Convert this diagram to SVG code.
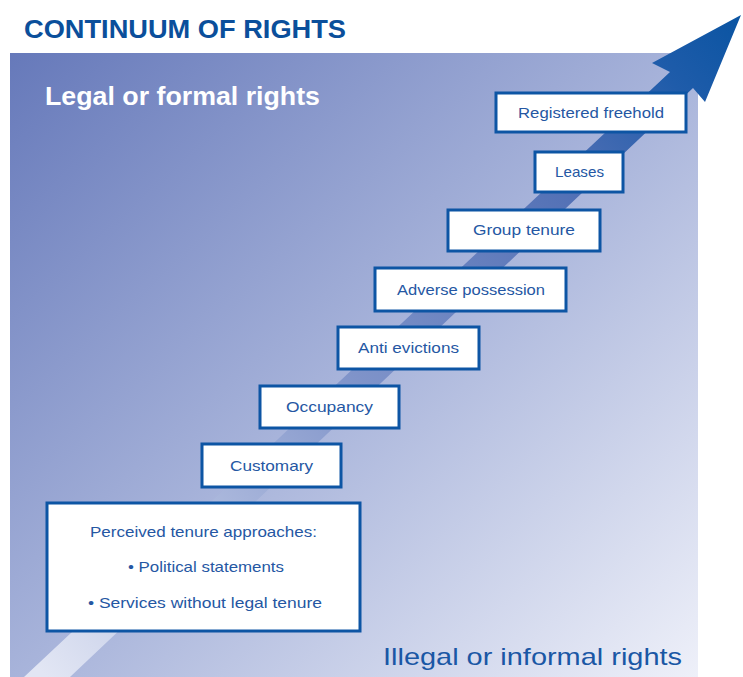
<svg xmlns="http://www.w3.org/2000/svg" width="743" height="677" viewBox="0 0 743 677">
  <defs>
    <linearGradient id="panelFill" x1="0" y1="0" x2="1" y2="1">
      <stop offset="0" stop-color="#6679ba"/>
      <stop offset="0.5" stop-color="#a7b3da"/>
      <stop offset="1" stop-color="#eef0f9"/>
    </linearGradient>
    <linearGradient id="arrowFill" gradientUnits="userSpaceOnUse" x1="47" y1="677" x2="741" y2="15">
      <stop offset="0" stop-color="#e2e6f4"/>
      <stop offset="0.45" stop-color="#7f93c9"/>
      <stop offset="0.75" stop-color="#5270b5"/>
      <stop offset="0.9" stop-color="#1f5caa"/>
      <stop offset="1" stop-color="#0a54a2"/>
    </linearGradient>
    <style>
      .box { fill: #ffffff; stroke: #0d55a4; stroke-width: 3; }
      .lbl { font-family: "Liberation Sans", Arial, sans-serif; font-size: 15px; fill: #2557a3; text-anchor: middle; }
      .title { font-family: "Liberation Sans", Arial, sans-serif; font-weight: bold; font-size: 25px; fill: #0b4f9b; }
      .legal { font-family: "Liberation Sans", Arial, sans-serif; font-weight: bold; font-size: 25px; fill: #ffffff; }
      .illegal { font-family: "Liberation Sans", Arial, sans-serif; font-size: 24px; fill: #1a57a5; }
    </style>
  </defs>

  <rect width="743" height="677" fill="#ffffff"/>

  <!-- background panel -->
  <rect x="10" y="53" width="688" height="624" fill="url(#panelFill)"/>

  <text class="title" x="24" y="38" textLength="322" lengthAdjust="spacingAndGlyphs">CONTINUUM OF RIGHTS</text>
  <text class="legal" x="45" y="105" textLength="275" lengthAdjust="spacingAndGlyphs">Legal or formal rights</text>
  <text class="illegal" x="383" y="665" textLength="299" lengthAdjust="spacingAndGlyphs">Illegal or informal rights</text>

  <!-- rising arrow -->
  <g id="connectors">
    <polygon points="24,677 670,72 652,63 741,15 705,102 693,88 70,677" fill="url(#arrowFill)"/>
  </g>

  <g id="registered-freehold">
    <rect class="box" x="496" y="93" width="190" height="39"/>
    <text class="lbl" x="591" y="118" textLength="146" lengthAdjust="spacingAndGlyphs">Registered freehold</text>
  </g>
  <g id="leases">
    <rect class="box" x="535" y="152" width="88" height="40"/>
    <text class="lbl" x="579.5" y="177" textLength="49" lengthAdjust="spacingAndGlyphs">Leases</text>
  </g>
  <g id="group-tenure">
    <rect class="box" x="448" y="210" width="152" height="41"/>
    <text class="lbl" x="524" y="235" textLength="102" lengthAdjust="spacingAndGlyphs">Group tenure</text>
  </g>
  <g id="adverse-possession">
    <rect class="box" x="375" y="268" width="191" height="43"/>
    <text class="lbl" x="471" y="295" textLength="148" lengthAdjust="spacingAndGlyphs">Adverse possession</text>
  </g>
  <g id="anti-evictions">
    <rect class="box" x="338" y="327" width="141" height="42"/>
    <text class="lbl" x="408.5" y="353" textLength="101" lengthAdjust="spacingAndGlyphs">Anti evictions</text>
  </g>
  <g id="occupancy">
    <rect class="box" x="260" y="386" width="139" height="42"/>
    <text class="lbl" x="329.5" y="412" textLength="87" lengthAdjust="spacingAndGlyphs">Occupancy</text>
  </g>
  <g id="customary">
    <rect class="box" x="202" y="444" width="139" height="43"/>
    <text class="lbl" x="271.5" y="471" textLength="83" lengthAdjust="spacingAndGlyphs">Customary</text>
  </g>
  <g id="perceived-tenure">
    <rect class="box" x="47" y="503" width="313" height="128"/>
    <text class="lbl" x="203.5" y="537" textLength="227" lengthAdjust="spacingAndGlyphs">Perceived tenure approaches:</text>
    <text class="lbl" x="206" y="572" textLength="156" lengthAdjust="spacingAndGlyphs">• Political statements</text>
    <text class="lbl" x="205" y="608" textLength="234" lengthAdjust="spacingAndGlyphs">• Services without legal tenure</text>
  </g>
</svg>
